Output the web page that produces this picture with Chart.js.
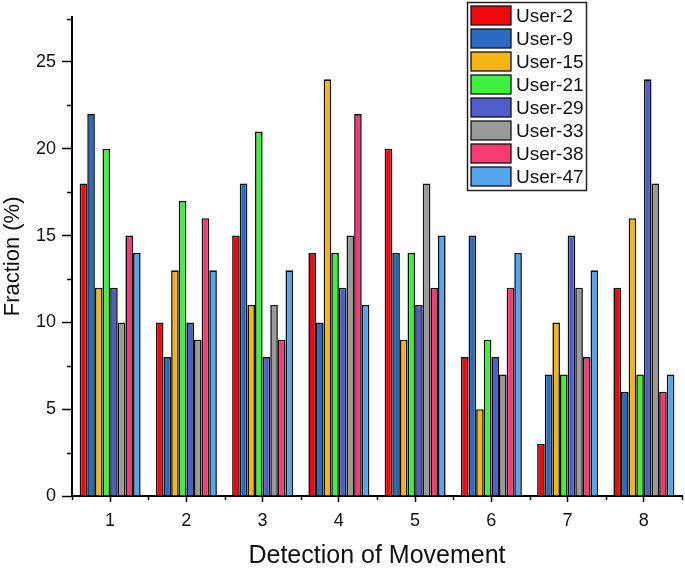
<!DOCTYPE html>
<html>
<head>
<meta charset="utf-8">
<script src="https://cdn.jsdelivr.net/npm/chart.js@4/dist/chart.umd.min.js"></script>
<style>
  html, body { margin: 0; padding: 0; background: #fff; }
  canvas { display: block; }
</style>
</head>
<body>
<canvas id="chart" width="685" height="576"></canvas>
<script>
// categories and series
const categories = ['1', '2', '3', '4', '5', '6', '7', '8'];
const seriesNames = ['User-2', 'User-9', 'User-15', 'User-21', 'User-29', 'User-33', 'User-38', 'User-47'];
const user2  = [18, 10, 15, 14, 20, 8, 3, 12];
const user9  = [22, 8, 18, 10, 14, 15, 7, 6];
const user15 = [12, 13, 11, 24, 9, 5, 10, 16];
const user21 = [20, 17, 21, 14, 14, 9, 7, 7];
const user29 = [12, 10, 8, 12, 11, 8, 15, 24];
const user33 = [10, 9, 11, 15, 18, 7, 12, 18];
const user38 = [15, 16, 9, 22, 12, 12, 8, 6];
const user47 = [14, 13, 13, 11, 15, 14, 13, 7];
const yTicks = [0, 5, 10, 15, 20, 25];
const yMinorTicks = [2.5, 7.5, 12.5, 17.5, 22.5, 27.5];

const seriesValues = [user2, user9, user15, user21, user29, user33, user38, user47];
const seriesColors = ['#f2070f', '#2a6bc2', '#f5b514', '#3cf23c', '#4f5ec8', '#9a9a9a', '#f53c72', '#55a5ee'];

const FONT = "'Liberation Sans', Arial, sans-serif";

// draws the short minor ticks and the framed legend
const extras = {
  id: 'extras',
  afterDraw(chart) {
    const ctx = chart.ctx;
    const x = chart.scales.x, y = chart.scales.y;
    ctx.save();
    ctx.strokeStyle = '#000';
    ctx.lineWidth = 1.5;
    ctx.beginPath();
    yMinorTicks.forEach(v => {
      const py = Math.round(y.getPixelForValue(v)) + 0.5;
      ctx.moveTo(x.left - 5, py);
      ctx.lineTo(x.left, py);
    });
    for (let i = 0; i <= categories.length; i++) {
      const px = Math.round(x.getPixelForValue(i - 0.5)) + 0.5;
      ctx.moveTo(px, y.bottom);
      ctx.lineTo(px, y.bottom + 4);
    }
    ctx.stroke();

    // legend
    const lx = 467, ly = 2, lw = 119, lh = 188;
    ctx.fillStyle = '#fff';
    ctx.fillRect(lx, ly, lw, lh);
    ctx.strokeStyle = '#222';
    ctx.lineWidth = 1.5;
    ctx.strokeRect(lx + 0.5, ly + 0.5, lw, lh);
    ctx.font = '19px ' + FONT;
    ctx.textBaseline = 'middle';
    ctx.textAlign = 'left';
    seriesNames.forEach((name, i) => {
      const sy = ly + 4 + i * 23;
      ctx.fillStyle = seriesColors[i];
      ctx.fillRect(lx + 4, sy, 40, 19);
      ctx.strokeStyle = '#111';
      ctx.lineWidth = 1.3;
      ctx.strokeRect(lx + 4, sy, 40, 19);
      ctx.fillStyle = '#111';
      ctx.fillText(name, lx + 49, sy + 10.5);
    });
    ctx.restore();
  }
};

new Chart(document.getElementById('chart'), {
  type: 'bar',
  data: {
    labels: categories,
    datasets: seriesNames.map((name, i) => ({
      label: name,
      data: seriesValues[i],
      backgroundColor: seriesColors[i],
      borderColor: '#111',
      borderWidth: 1.6,
      categoryPercentage: 0.8,
      barPercentage: 1.0
    }))
  },
  options: {
    responsive: false,
    animation: false,
    layout: { padding: { top: 5, right: 3, left: 0, bottom: 0 } },
    plugins: {
      legend: { display: false },
      tooltip: { enabled: false }
    },
    scales: {
      x: {
        afterFit: s => { s.height = 80; },
        border: { color: '#000', width: 2 },
        grid: { drawOnChartArea: false, offset: false, color: '#000', tickLength: 6, tickWidth: 1.5 },
        ticks: { color: '#111', font: { family: FONT, size: 18 }, padding: 8 },
        title: {
          display: true,
          text: 'Detection of Movement',
          color: '#111',
          font: { family: FONT, size: 25 },
          padding: { top: 0, bottom: 5 }
        }
      },
      y: {
        min: 0,
        max: 27.6,
        afterFit: s => { s.width = 72; },
        afterBuildTicks: s => { s.ticks = yTicks.map(v => ({ value: v })); },
        border: { color: '#000', width: 2 },
        grid: { drawOnChartArea: false, color: '#000', tickLength: 10, tickWidth: 1.5 },
        ticks: { color: '#111', font: { family: FONT, size: 18 }, padding: 6 },
        title: {
          display: true,
          text: 'Fraction (%)',
          color: '#111',
          font: { family: FONT, size: 22 },
          padding: 0
        }
      }
    }
  },
  plugins: [extras]
});
</script>
</body>
</html>
